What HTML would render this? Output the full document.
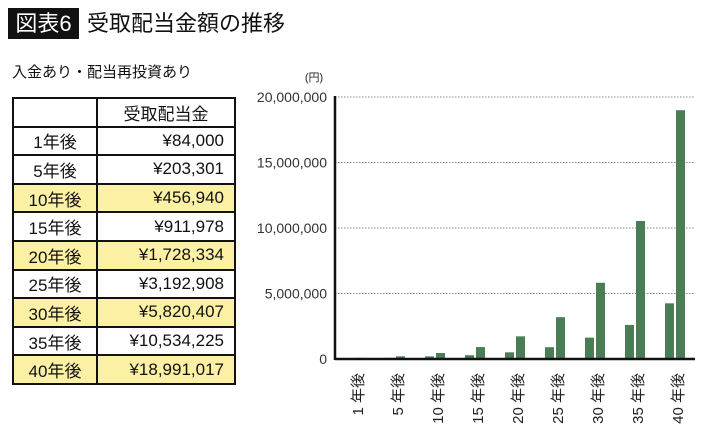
<!DOCTYPE html>
<html><head><meta charset="utf-8"><style>
body{margin:0;width:710px;height:434px;background:#fff;font-family:"Liberation Sans","Noto Sans CJK JP",sans-serif;overflow:hidden;position:relative}
#title-box{position:absolute;left:8px;top:8px;width:71px;height:31px;background:#111;color:#fff;font-size:22px;line-height:31px;text-align:center}
#title{position:absolute;left:87px;top:8px;font-size:22px;line-height:31px;color:#111}
#sub{position:absolute;left:12px;top:61px;font-size:15px;color:#111}
table{position:absolute;left:12px;top:97px;border-collapse:collapse;width:224px;table-layout:fixed}
td{border:2px solid #111;height:26.6px;padding:0;font-size:17px;color:#111;box-sizing:border-box}
td.y{text-align:center;width:84px}
td.v{text-align:right;padding-right:10px}
tr.hl td{background:#fbf0a4}
svg{position:absolute;left:0;top:0}
</style></head><body>
<div id="title-box">図表6</div>
<div id="title">受取配当金額の推移</div>
<div id="sub">入金あり・配当再投資あり</div>
<table>
<tr style="height:28.6px"><td class="y"></td><td style="text-align:center">受取配当金</td></tr>
<tr style="height:28.6px"><td class="y">1年後</td><td class="v">¥84,000</td></tr>
<tr style="height:28.6px"><td class="y">5年後</td><td class="v">¥203,301</td></tr>
<tr class="hl" style="height:28.6px"><td class="y">10年後</td><td class="v">¥456,940</td></tr>
<tr style="height:28.6px"><td class="y">15年後</td><td class="v">¥911,978</td></tr>
<tr class="hl" style="height:28.6px"><td class="y">20年後</td><td class="v">¥1,728,334</td></tr>
<tr style="height:28.6px"><td class="y">25年後</td><td class="v">¥3,192,908</td></tr>
<tr class="hl" style="height:28.6px"><td class="y">30年後</td><td class="v">¥5,820,407</td></tr>
<tr style="height:28.6px"><td class="y">35年後</td><td class="v">¥10,534,225</td></tr>
<tr class="hl" style="height:28.6px"><td class="y">40年後</td><td class="v">¥18,991,017</td></tr>
</table>
<svg id="chart" width="710" height="434"></svg>
<script>
const categories=["1年後","5年後","10年後","15年後","20年後","25年後","30年後","35年後","40年後"];
const labelNums=["1","5","10","15","20","25","30","35","40"];
const seriesA=[40000,90000,200000,290000,510000,900000,1630000,2600000,4250000];
const seriesB=[84000,203301,456940,911978,1728334,3192908,5820407,10534225,18991017];
const ticks=[0,5000000,10000000,15000000,20000000];
const tickLabels=["0","5,000,000","10,000,000","15,000,000","20,000,000"];
const svg=document.getElementById('chart');
const NS="http://www.w3.org/2000/svg";
const x0=335,x1=695,y0=359,yTop=97,maxV=20000000;
const y=v=>y0-(v/maxV)*(y0-yTop);
const gx=i=>345+i*40;
function mk(t,a){const e=document.createElementNS(NS,t);for(const k in a)e.setAttribute(k,a[k]);svg.appendChild(e);return e;}
ticks.forEach((t,i)=>{
 if(t>0){const l=mk('line',{x1:x0,x2:x1,y1:y(t),y2:y(t),stroke:'#888','stroke-width':1,'stroke-dasharray':'1.5,1.5'});
 
 }
 const tx=mk('text',{x:327,y:y(t)+5,'text-anchor':'end','font-size':14,fill:'#333'});
 tx.textContent=tickLabels[i];
 
 
});
const u=mk('text',{x:314,y:81,'text-anchor':'middle','font-size':11,fill:'#222'});u.textContent='(円)';


categories.forEach((c,i)=>{
 const a=mk('rect',{x:gx(i),y:y(seriesA[i]),width:9,height:y0-y(seriesA[i]),fill:'#4a7d55'});
 
 
 const b=mk('rect',{x:gx(i)+11,y:y(seriesB[i]),width:9,height:y0-y(seriesB[i]),fill:'#4a7d55'});
 
 
 const cx=gx(i)+13,ty=373;
 const t=mk('text',{x:0,y:0,transform:`translate(${cx+5},${ty}) rotate(-90)`,'text-anchor':'end','font-size':15,fill:'#222'});
 t.textContent=labelNums[i]+' 年後';
 
 
});
const ax=mk('line',{x1:x0,x2:x0,y1:yTop-1,y2:y0+1,stroke:'#111','stroke-width':2.5});


const bx=mk('line',{x1:x0,x2:x1,y1:y0,y2:y0,stroke:'#111','stroke-width':2.5});


</script>
</body></html>
